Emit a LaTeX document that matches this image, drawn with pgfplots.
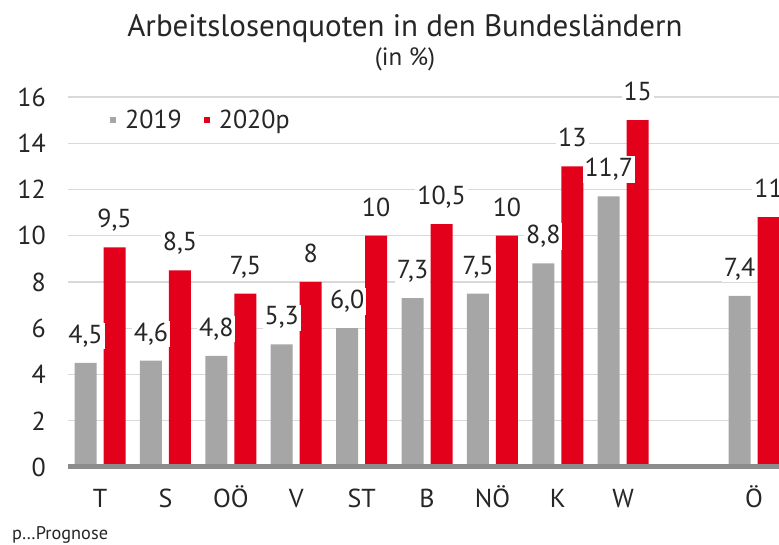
\documentclass[border=0pt]{standalone}
\usepackage{pgfplots}
\pgfplotsset{compat=1.18}
\usepackage{fontspec}
\setmainfont{PT Sans}
\definecolor{ucred}{HTML}{E2001A}
\definecolor{bargrey}{HTML}{A6A6A6}
\definecolor{gridgrey}{HTML}{D9D9D9}
\definecolor{axisgrey}{HTML}{8C8C8C}
\definecolor{txt}{HTML}{262626}
\begin{document}
\begin{tikzpicture}[x=1pt,y=1pt]
\useasboundingbox (0,0) rectangle (779,545);
\begin{axis}[
  at={(68pt,78pt)}, anchor=south west, scale only axis,
  width=713.5pt, height=370pt,
  xmin=-0.49, xmax=10.42, ymin=0, ymax=16,
  ybar=7pt, bar width=22pt,
  clip=false,
  axis x line*=bottom, axis y line*=left,
  x axis line style={draw=none}, y axis line style={draw=none},
  major tick length=0pt,
  xtick={0,1,2,3,4,5,6,7,8,10},
  xticklabels={T,S,OÖ,V,ST,B,NÖ,K,W,Ö},
  ytick={0,2,...,16},
  ymajorgrids, grid style={draw=gridgrey, line width=1.3pt},
  tick label style={font=\fontsize{26}{30}\selectfont, text=txt, inner sep=0pt},
  xticklabel style={anchor=base, yshift=-41pt},
  yticklabel style={anchor=east, xshift=-22pt},
  /pgf/number format/assume math mode=true,
  point meta=explicit symbolic,
  nodes near coords,
  every node near coord/.append style={font=\fontsize{26}{30}\selectfont, text=txt, anchor=base, yshift=19.5pt, fill=white, inner sep=2pt},
  legend style={at={(0.0589,0.938)}, anchor=west, draw=none, fill=none, inner sep=0pt,
    font=\fontsize{26}{30}\selectfont, text=txt,
    /tikz/every even column/.append style={column sep=20pt}},
  legend columns=2,
  legend image code/.code={\fill[#1] (0pt,-3pt) rectangle (6pt,3pt); \path (13pt,0pt);},
]
\addplot[fill=bargrey, draw=none] table[meta=l] {
x y l
0 4.5 4,5
1 4.6 4,6
2 4.8 4,8
3 5.3 5,3
4 6.0 6,0
5 7.3 7,3
6 7.5 7,5
7 8.8 8,8
8 11.7 11,7
10 7.4 7,4
};
\addlegendentry{2019}
\addplot[fill=ucred, draw=none] table[meta=l] {
x y l
0 9.5 9,5
1 8.5 8,5
2 7.5 7,5
3 8 8
4 10 10
5 10.5 10,5
6 10 10
7 13 13
8 15 15
10 10.8 11
};
\addlegendentry{2020p}
\draw[axisgrey, line width=5pt] (rel axis cs:0,0) -- (rel axis cs:1,0);
\end{axis}
\node[anchor=base, font=\fontsize{31}{36}\selectfont, text=txt] at (405,508) {Arbeitslosenquoten in den Bundesländern};
\node[anchor=base, font=\fontsize{25}{30}\selectfont, text=txt] at (405,479) {(in \%)};
\node[anchor=base west, inner sep=0pt, font=\fontsize{18.3}{22}\selectfont, text=txt] at (12,5) {p…Prognose};
\end{tikzpicture}
\end{document}
